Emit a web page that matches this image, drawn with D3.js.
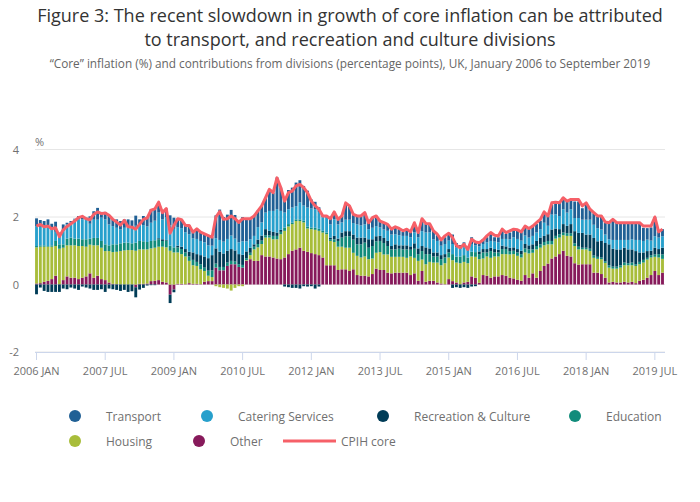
<!DOCTYPE html>
<html>
<head>
<meta charset="utf-8">
<script src="https://cdn.jsdelivr.net/npm/d3@7"></script>
<style>
  body { margin: 0; background: #fff; }
  svg { font-family: "Open Sans", sans-serif; }
</style>
</head>
<body>
<svg id="chart" width="700" height="502"></svg>
<script>
// Monthly contributions (percentage points), Jan 2006 - Sep 2019
const other = [
  .03,.04,.08,.11,.16,.26,.01,.13,.24,.2,.2,.16, .2,.24,.33,.2,.26,.16,.13,.06,.02,.01,0,0,
  0,0,-.08,.02,.02,.03,.1,.11,.13,.08,.06,-.3, -.15,.02,.02,.01,.04,.02,.02,.01,.08,.1,.1,
  .5,.42,.42,.55,.6,.6,.52,.5,.7,.75,
  .7,.7,.87,.83,.83,.8,.77,.75,.8,.9,1.0,1.04,1.09,1.0,
  .97,.93,.9,.87,.8,.57,.57,.57,.43,.45,.45,.4,.45,.28,.26,.26,.24,.31,.47,.43,.43,.35,.33,
  .35,.35,.35,.35,.28,.33,.11,.4,.08,.11,.11,.06,.03,.01,.16,.1,.06,.01,.06,.08,.24,.2,.05,.28,
  .26,.2,.24,.24,.28,.26,.2,.18,.14,.11,.28,.2,.33,.2,.4,.55,.62,.77,.83,.9,1.0,.85,.83,
  .63,.59,.6,.6,.6,.35,.35,.31,.2,.06,.08,.06,.06,.08,.06,.08,.04,.11,.14,.2,.28,.4,.28,.35
];
const housing = [
  1.07,1.08,1.04,1.01,.96,.88,1.05,.96,.92,.96,.96,.98,.94,.88,.85,.96,.9,.93,.86,.93,.94,.96,.99,1.01,
  1.02,1.02,1.0,1.02,1.02,1.01,.97,.98,.99,1.04,1.04,1.0,.95,.93,.88,.82,.66,.55,.53,.44,.32,.16,.12,
  -.05,-.08,-.1,-.12,-.18,-.1,-.05,-.05,.02,.12,
  .34,.4,.33,.56,.56,.54,.57,.74,.79,.82,.79,.84,.79,.84,
  .69,.71,.72,.72,.74,.92,.72,.69,.69,.67,.64,.69,.49,.57,.54,.57,.51,.46,.47,.53,.46,.54,.49,
  .47,.47,.47,.44,.55,.46,.59,.34,.52,.56,.54,.59,.54,.62,.64,.62,.59,.62,.61,.55,.59,.62,.7,.49,
  .57,.59,.59,.59,.62,.64,.69,.72,.71,.69,.67,.72,.61,.84,.69,.61,.57,.42,.53,.49,.46,.59,.61,
  .51,.45,.44,.44,.39,.44,.41,.44,.44,.44,.39,.41,.44,.49,.51,.49,.51,.49,.51,.54,.52,.42,.52,.41
];
const education = [
  .04,.04,.04,.02,.04,.15,.13,.1,.2,.23,.2,.22,.2,.22,.18,.22,.22,.2,.2,.17,.23,.22,.23,.23,
  .22,.2,.24,.25,.24,.22,.22,.22,.22,.17,.2,.15,.15,.15,.15,.12,.13,.16,.12,.15,.1,.15,.2,
  .12,.1,.1,.1,.1,.08,.08,.08,.06,.07,
  .08,.1,.1,.07,.07,.1,.1,.07,.1,.07,.05,.05,.05,.05,
  .06,.05,.06,.06,.05,.05,.05,.08,.17,.27,.34,.34,.39,.34,.39,.41,.34,.37,.34,.33,.34,.25,.22,
  .22,.24,.22,.25,.2,.27,.2,.25,.3,.23,.18,.18,.18,.17,.15,.18,.18,.2,.2,.17,.14,.14,.15,.18,
  .12,.2,.12,.12,.15,.15,.1,.1,.1,.1,.12,.12,.1,.1,.1,.1,.1,.1,.08,.1,.08,.08,.08,
  .08,.08,.05,.05,.07,.07,.06,.05,.05,.07,.06,.06,.07,.08,.06,.08,.05,.07,.08,.05,.07,.07,.1,.13
];
const recreation = [
  -.29,-.09,-.19,-.22,-.22,-.22,-.22,-.12,-.14,-.09,-.12,-.16,-.06,-.09,-.12,-.16,-.16,-.14,-.22,-.12,-.14,-.16,-.19,-.16,
  -.22,-.2,-.3,-.15,-.1,-.03,-.02,-.02,.03,.05,.02,-.25,-.08,.05,.07,.1,.14,.22,.23,.27,.33,.37,.45,
  .45,.45,.4,.35,.35,.33,.3,.3,.2,.15,
  .07,.13,.15,.18,.13,.12,.1,.06,-.06,-.08,-.1,-.1,-.12,-.05,
  -.06,-.05,-.12,-.06,0,0,.05,.1,.07,.15,.15,.15,.15,.2,.2,.15,.25,.2,.15,.15,.15,.15,.1,
  .15,.1,.12,.12,.1,.16,.17,.15,.2,.17,.12,.12,.12,.1,.1,-.1,-.08,-.1,-.08,-.1,-.06,-.05,.08,.1,
  .1,.1,.1,.08,.1,.08,.1,.1,.1,.1,.13,.12,.15,.15,.2,.18,.2,.34,.22,.15,.25,.22,.27,
  .36,.41,.44,.39,.42,.52,.46,.49,.54,.62,.53,.51,.47,.44,.41,.39,.39,.28,.22,.2,.13,.2,.15,.2
];
const catering = [
  .59,.55,.52,.57,.46,.27,.25,.39,.42,.46,.57,.57,.59,.57,.44,.54,.54,.69,.74,.62,.54,.49,.41,.44,
  .44,.44,.5,.49,.48,.46,.54,.58,.76,.59,.68,.6,.55,.55,.55,.5,.52,.42,.45,.42,.42,.38,.28,
  .3,.35,.35,.35,.4,.35,.35,.4,.3,.25,
  .25,.37,.39,.49,.59,.62,.69,.56,.44,.44,.44,.39,.5,.45,
  .56,.56,.55,.5,.4,.44,.39,.49,.42,.3,.34,.34,.34,.39,.36,.39,.3,.34,.3,.25,.25,.3,.34,
  .3,.3,.28,.28,.27,.32,.33,.44,.44,.47,.39,.34,.28,.3,.25,.3,.27,.22,.23,.2,.23,.2,.15,.15,
  .2,.2,.22,.22,.2,.22,.25,.3,.3,.3,.25,.23,.25,.25,.25,.39,.25,.44,.42,.39,.44,.39,.44,
  .39,.44,.39,.44,.44,.39,.39,.34,.25,.15,.26,.28,.28,.23,.28,.3,.33,.37,.34,.34,.3,.34,.34,.34
];
const transport = [
  .23,.2,.2,.22,.18,.3,.1,.2,.05,.03,.02,.1,.1,.07,.22,.25,.35,.17,.22,.27,.2,.25,.25,.25,
  .25,.24,.3,.15,.27,.28,.4,.37,.31,.2,.25,.3,.33,.25,.25,.2,.26,.18,.3,.26,.25,.29,.25,
  .68,.9,.73,.72,.76,.7,.63,.72,.67,.61,
  .59,.49,.49,.44,.64,.54,.94,.69,.4,.57,.59,.7,.66,.58,
  .5,.27,.22,.14,.04,.05,.17,.22,.15,.2,.49,.39,.25,.25,.28,.34,.2,.3,.3,.2,.2,.2,.15,
  .23,.18,.12,.18,.17,.25,.15,.34,.25,.25,.25,.17,.15,.2,.2,.28,.13,.12,.15,.1,.2,.13,.12,.15,
  .15,.2,.13,.15,.25,.15,.2,.2,.25,.25,.25,.25,.3,.25,.25,.3,.3,.3,.34,.39,.34,.34,.3,
  .49,.49,.34,.44,.3,.34,.34,.39,.36,.49,.61,.51,.51,.51,.51,.49,.51,.51,.39,.34,.39,.57,.17,.21
];
// CPIH core, %
const cpihCore = [
  1.73,1.78,1.71,1.73,1.65,1.68,1.42,1.62,1.72,1.8,1.88,1.98,2.02,1.95,1.92,2.08,2.15,2.1,2.12,2.05,1.93,1.85,1.76,1.9,
  1.71,1.7,1.64,1.78,1.93,1.97,2.2,2.24,2.44,2.13,2.25,1.52,1.75,1.95,1.92,1.75,1.75,1.55,1.65,1.55,1.5,1.45,1.4,
  2.0,2.16,1.93,1.95,2.03,1.95,1.84,1.95,1.95,1.95,2.03,2.18,2.33,2.57,2.82,2.72,3.16,2.87,2.47,2.72,2.77,2.92,2.97,2.87,
  2.72,2.47,2.33,2.23,2.03,2.03,1.95,2.15,1.93,2.03,2.42,2.33,2.08,2.03,2.03,2.13,1.83,1.98,2.03,1.88,1.83,1.78,1.64,
  1.71,1.66,1.59,1.64,1.56,1.83,1.54,1.95,1.81,1.8,1.59,1.49,1.32,1.44,1.52,1.39,1.16,1.09,1.19,1.04,1.34,1.26,1.24,1.32,
  1.44,1.54,1.46,1.44,1.64,1.54,1.59,1.64,1.62,1.56,1.73,1.66,1.73,1.83,1.93,2.15,2.03,2.42,2.44,2.42,2.57,2.47,2.52,
  2.52,2.52,2.33,2.42,2.23,2.13,2.03,2.03,1.85,1.83,1.93,1.83,1.83,1.83,1.83,1.83,1.83,1.83,1.73,1.73,1.73,2.0,1.56,1.64
];

const months = d3.timeMonth.range(new Date(2006, 0, 1), new Date(2019, 9, 1));
const xTickLabels = ["2006 JAN", "2007 JUL", "2009 JAN", "2010 JUL", "2012 JAN",
  "2013 JUL", "2015 JAN", "2016 JUL", "2018 JAN", "2019 JUL"];
const yTicks = [-2, 0, 2, 4];

const series = [
  { key: "transport", name: "Transport", color: "#206095", values: transport },
  { key: "catering", name: "Catering Services", color: "#27a0cc", values: catering },
  { key: "recreation", name: "Recreation & Culture", color: "#003c57", values: recreation },
  { key: "education", name: "Education", color: "#118c7b", values: education },
  { key: "housing", name: "Housing", color: "#a8bd3a", values: housing },
  { key: "other", name: "Other", color: "#871a5b", values: other }
];
const lineColor = "#f66068";

const rows = months.map((d, i) => {
  const r = { date: d, core: cpihCore[i] };
  series.forEach(s => { r[s.key] = s.values[i]; });
  return r;
});

const svg = d3.select("#chart");
const textGrey = "#707070";

// titles
svg.append("text")
  .attr("x", 350).attr("y", 22)
  .attr("text-anchor", "middle")
  .style("font-size", "18px").style("fill", "#333")
  .text("Figure 3: The recent slowdown in growth of core inflation can be attributed");
svg.append("text")
  .attr("x", 350).attr("y", 46)
  .attr("text-anchor", "middle")
  .style("font-size", "18px").style("fill", "#333")
  .text("to transport, and recreation and culture divisions");
svg.append("text")
  .attr("x", 350).attr("y", 68)
  .attr("text-anchor", "middle")
  .style("font-size", "11.8px").style("fill", "#666")
  .text("\u201cCore\u201d inflation (%) and contributions from divisions (percentage points), UK, January 2006 to September 2019");

// scales
const x = d3.scaleBand()
  .domain(d3.range(rows.length))
  .range([34.6, 664.4])
  .paddingInner(0.25)
  .paddingOuter(0.125);

const y = d3.scaleLinear().domain([-2, 4]).range([352, 149.5]);

// gridlines
svg.append("g")
  .selectAll("line")
  .data(yTicks)
  .join("line")
  .attr("x1", 35).attr("x2", 665)
  .attr("y1", d => y(d)).attr("y2", d => y(d))
  .attr("stroke", "#e6e6e6").attr("stroke-width", 1);

// y labels
svg.append("g")
  .selectAll("text")
  .data(yTicks)
  .join("text")
  .attr("x", 19).attr("y", d => y(d) + 4)
  .attr("text-anchor", "end")
  .style("font-size", "11px").style("fill", textGrey)
  .text(d => d);

svg.append("text")
  .attr("x", 35).attr("y", 146)
  .style("font-size", "11px").style("fill", textGrey)
  .text("%");

// stacked bars (positive above, negative below zero)
const stack = d3.stack()
  .keys(series.map(s => s.key).reverse())
  .offset(d3.stackOffsetDiverging);
const stacked = stack(rows);
const colorOf = Object.fromEntries(series.map(s => [s.key, s.color]));

svg.append("g")
  .selectAll("g")
  .data(stacked)
  .join("g")
  .attr("fill", d => colorOf[d.key])
  .selectAll("rect")
  .data(d => d)
  .join("rect")
  .attr("x", (d, i) => x(i))
  .attr("width", x.bandwidth())
  .attr("y", d => y(Math.max(d[0], d[1])))
  .attr("height", d => Math.abs(y(d[0]) - y(d[1])));

// x axis
const tickIdx = d3.range(0, rows.length, 18);
const xAxis = d3.axisBottom(x)
  .tickValues(tickIdx)
  .tickSize(8)
  .tickSizeOuter(0)
  .tickFormat((d, i) => xTickLabels[i]);

const gx = svg.append("g")
  .attr("transform", `translate(0,${y(-2)})`)
  .call(xAxis);
gx.select(".domain").attr("stroke", "#ccd6eb").attr("d", `M35,0.5H665`);
gx.selectAll(".tick line").attr("stroke", "#ccd6eb");
gx.selectAll(".tick text")
  .attr("dy", "1.05em")
  .style("font-family", "'Open Sans', sans-serif")
  .style("font-size", "11px").style("fill", textGrey);

// CPIH core line
const line = d3.line()
  .x((d, i) => x(i) + x.bandwidth() / 2)
  .y(d => y(d.core));

svg.append("path")
  .datum(rows)
  .attr("fill", "none")
  .attr("stroke", lineColor)
  .attr("stroke-width", 3)
  .attr("stroke-linejoin", "round")
  .attr("d", line);

// legend
const legendItems = [
  { s: series[0], x: 75, y: 416 },
  { s: series[1], x: 207, y: 416 },
  { s: series[2], x: 383, y: 416 },
  { s: series[3], x: 575, y: 416 },
  { s: series[4], x: 75, y: 441 },
  { s: series[5], x: 199, y: 441 }
];
const lg = svg.append("g");
legendItems.forEach(it => {
  lg.append("circle")
    .attr("cx", it.x).attr("cy", it.y).attr("r", 6)
    .attr("fill", it.s.color);
  lg.append("text")
    .attr("x", it.x + 31).attr("y", it.y + 4.5)
    .style("font-size", "12px").style("fill", textGrey)
    .text(it.s.name);
});
lg.append("line")
  .attr("x1", 283).attr("x2", 336).attr("y1", 441).attr("y2", 441)
  .attr("stroke", lineColor).attr("stroke-width", 3);
lg.append("text")
  .attr("x", 341).attr("y", 445.5)
  .style("font-size", "12px").style("fill", textGrey)
  .text("CPIH core");
</script>
</body>
</html>
